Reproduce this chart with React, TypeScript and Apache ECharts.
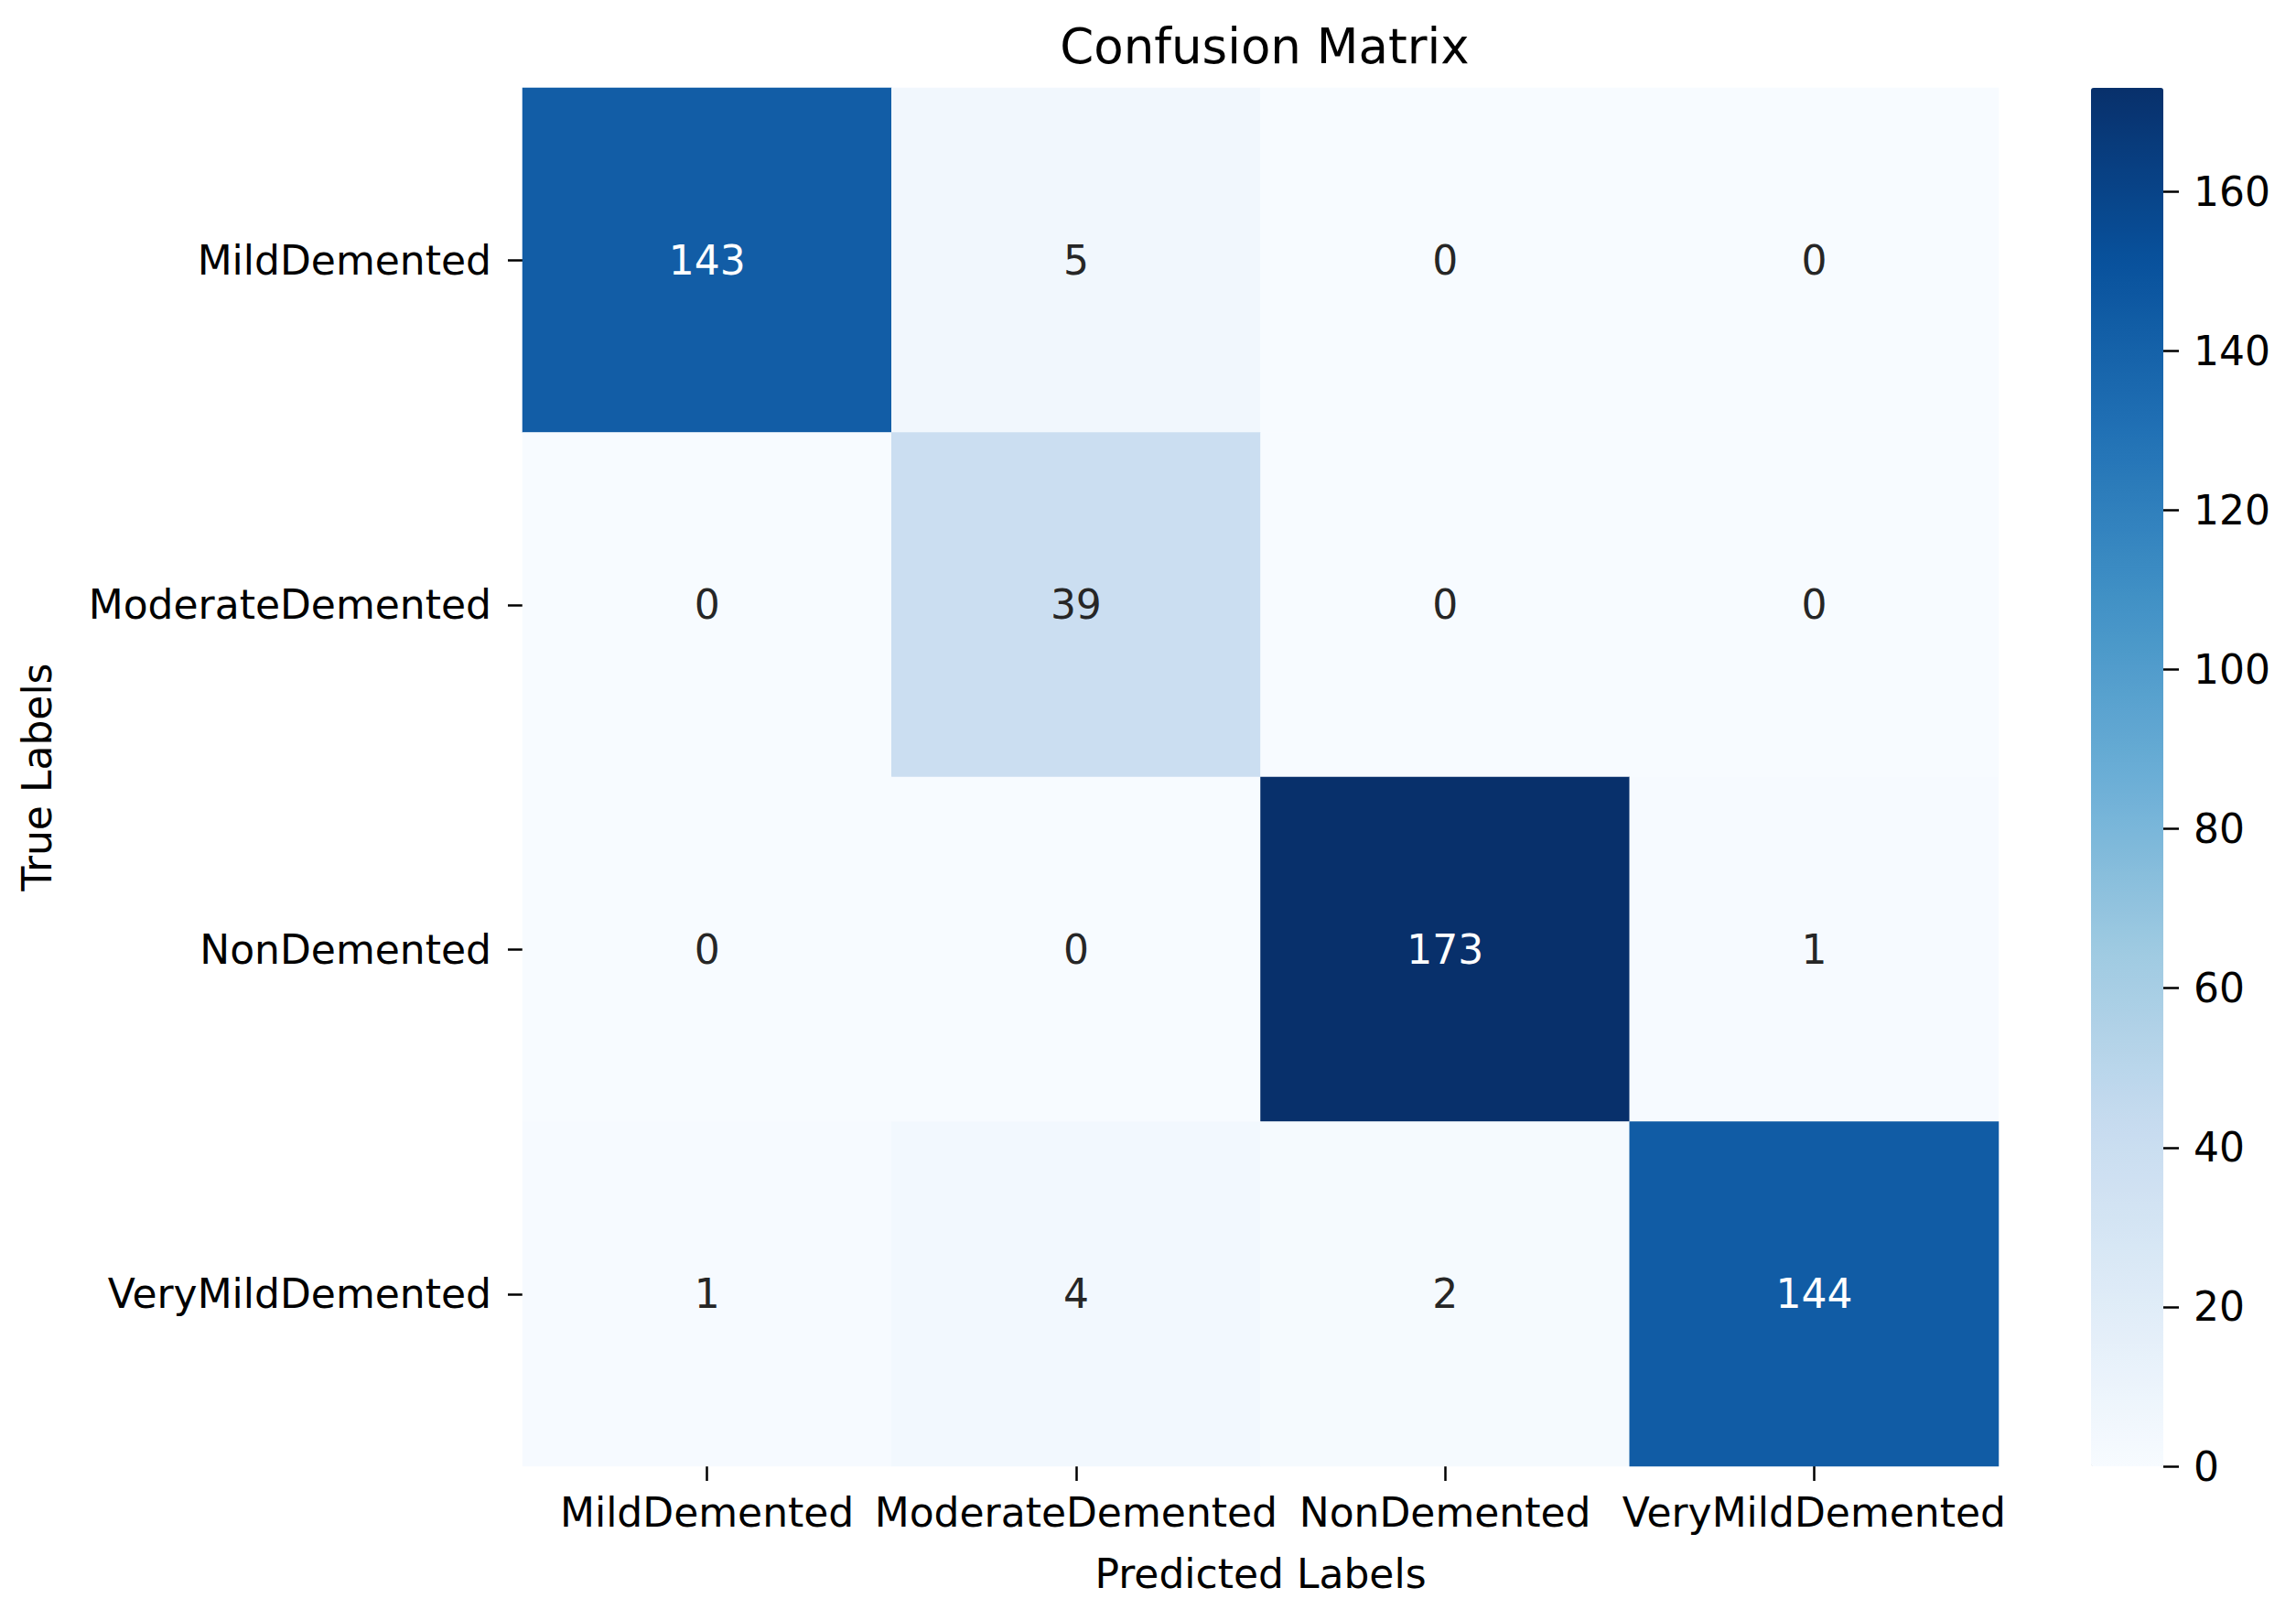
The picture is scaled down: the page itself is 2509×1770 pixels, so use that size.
import React, { useEffect, useRef } from "react";
import * as echarts from "echarts";

const predictedLabels = ["MildDemented", "ModerateDemented", "NonDemented", "VeryMildDemented"];
const trueLabels = ["MildDemented", "ModerateDemented", "NonDemented", "VeryMildDemented"];
// rows = true labels, columns = predicted labels
const matrixRows = [
  [143, 5, 0, 0],
  [0, 39, 0, 0],
  [0, 0, 173, 1],
  [1, 4, 2, 144],
];
const colorbarTicks = [0, 20, 40, 60, 80, 100, 120, 140, 160];
const blues = ["#f7fbff", "#deebf7", "#c6dbef", "#9ecae1", "#6baed6", "#4292c6", "#2171b5", "#08519c", "#08306b"];

const FONT = "DejaVu Sans";

export default function App() {
  const ref = useRef<HTMLDivElement>(null);
  useEffect(() => {
    if (!ref.current) return;
    const chart = echarts.init(ref.current, null, { renderer: "svg" });
    const vmin = 0;
    const vmax = 173;
    const data: any[] = [];
    matrixRows.forEach((row, yi) => {
      row.forEach((v, xi) => {
        data.push({
          value: [xi, yi, v],
          label: { color: v > (vmax - vmin) / 2 ? "#ffffff" : "#262626" },
        });
      });
    });
    chart.setOption({
      animation: false,
      backgroundColor: "#ffffff",
      title: {
        text: "Confusion Matrix",
        left: 1377,
        top: 19,
        textAlign: "center",
        textStyle: { fontFamily: FONT, fontSize: 53, fontWeight: "normal", color: "#000" },
      },
      grid: [
        { left: 571, right: 325, top: 96, bottom: 168, containLabel: false },
        { left: 2285, width: 79, top: 96, bottom: 168, containLabel: false },
      ],
      xAxis: [
        {
          type: "category",
          gridIndex: 0,
          data: predictedLabels,
          position: "bottom",
          name: "Predicted Labels",
          nameLocation: "middle",
          nameGap: 95,
          nameTextStyle: { fontFamily: FONT, fontSize: 44, color: "#000" },
          axisLine: { show: false },
          axisTick: { show: true, alignWithLabel: true, length: 16, lineStyle: { color: "#000", width: 2.5 } },
          axisLabel: { fontFamily: FONT, fontSize: 44, color: "#000", margin: 28, interval: 0 },
          splitLine: { show: false },
        },
        {
          type: "value",
          gridIndex: 1,
          show: false,
          min: 0,
          max: 1,
          axisLine: { onZero: false },
        },
      ],
      yAxis: [
        {
          type: "category",
          gridIndex: 0,
          data: trueLabels,
          inverse: true,
          name: "True Labels",
          nameLocation: "middle",
          nameGap: 509,
          nameTextStyle: { fontFamily: FONT, fontSize: 44, color: "#000" },
          axisLine: { show: false },
          axisTick: { show: true, alignWithLabel: true, length: 16, lineStyle: { color: "#000", width: 2.5 } },
          axisLabel: { fontFamily: FONT, fontSize: 44, color: "#000", margin: 34, interval: 0 },
          splitLine: { show: false },
        },
        {
          type: "value",
          gridIndex: 1,
          position: "right",
          min: colorbarTicks[0],
          max: vmax,
          interval: colorbarTicks[1] - colorbarTicks[0],
          axisLine: { show: false, onZero: false },
          axisTick: { show: true, length: 17, lineStyle: { color: "#000", width: 2.5 } },
          axisLabel: {
            fontFamily: FONT,
            fontSize: 44,
            color: "#000",
            margin: 33,
            showMaxLabel: false,
            formatter: (v: number) => (colorbarTicks.includes(v) ? String(v) : ""),
          },
          splitLine: { show: false },
        },
      ],
      visualMap: {
        type: "continuous",
        seriesIndex: 0,
        min: vmin,
        max: vmax,
        calculable: false,
        hoverLink: false,
        orient: "vertical",
        left: 2285,
        top: 96,
        itemWidth: 79,
        itemHeight: 1506,
        padding: 0,
        inRange: { color: blues },
      },
      series: [
        {
          type: "heatmap",
          xAxisIndex: 0,
          yAxisIndex: 0,
          data,
          label: {
            show: true,
            fontFamily: FONT,
            fontSize: 44,
            formatter: (p: any) => String(p.value[2]),
          },
          itemStyle: { borderWidth: 0 },
          emphasis: { disabled: true },
        },
        {
          type: "line",
          xAxisIndex: 1,
          yAxisIndex: 1,
          data: [],
          silent: true,
        },
      ],
    });
    return () => chart.dispose();
  }, []);
  return (
    <div
      ref={ref}
      style={{ position: "fixed", left: 0, top: 0, width: 2509, height: 1770, background: "#fff" }}
    />
  );
}
